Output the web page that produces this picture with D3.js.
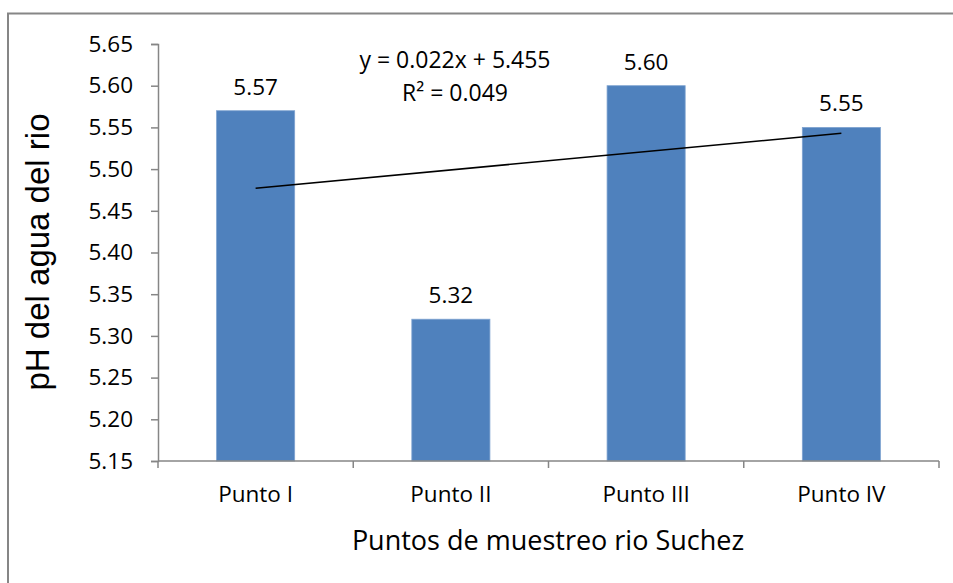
<!DOCTYPE html>
<html><head><meta charset="utf-8">
<script src="https://cdn.jsdelivr.net/npm/d3@7"></script>
<style>body{margin:0;background:#fff}svg{display:block}</style>
</head><body>
<script>
const categories = ["Punto I", "Punto II", "Punto III", "Punto IV"];
const values = [5.57, 5.32, 5.60, 5.55];
const yTicks = [5.15, 5.20, 5.25, 5.30, 5.35, 5.40, 5.45, 5.50, 5.55, 5.60, 5.65];
const trendSlope = 0.022, trendIntercept = 5.455;
const equationLines = ["y = 0.022x + 5.455", "R² = 0.049"];
const yTitle = "pH del agua del rio";
const xTitle = "Puntos de muestreo rio Suchez";

const W = 953, H = 583;
const m = {left: 158, right: 14, top: 44, bottom: 122};
const svg = d3.select("body").append("svg").attr("width", W).attr("height", H);
const font = "'Open Sans', Lato, sans-serif";
const fs = 22.5;

svg.append("rect").attr("x", 8).attr("y", 13.5).attr("width", W + 10).attr("height", H + 10)
  .attr("fill", "none").attr("stroke", "#868686").attr("stroke-width", 2);

const x = d3.scaleBand().domain(categories).range([m.left, W - m.right]).paddingInner(0.6).paddingOuter(0.3);
const y = d3.scaleLinear().domain([5.15, 5.65]).range([H - m.bottom, m.top]);

// bars
svg.selectAll("rect.bar").data(values).join("rect").attr("class", "bar")
  .attr("x", (d, i) => x(categories[i])).attr("width", x.bandwidth())
  .attr("y", d => y(d)).attr("height", d => y(5.15) - y(d))
  .attr("fill", "#4F81BD").attr("stroke", "#7FA3D0").attr("stroke-width", 0.8);

// labels
svg.selectAll("text.lbl").data(values).join("text").attr("class", "lbl")
  .attr("x", (d, i) => x(categories[i]) + x.bandwidth() / 2).attr("y", d => y(d) - 16)
  .attr("text-anchor", "middle").attr("font-family", font).attr("font-size", fs).attr("fill", "#000")
  .text(d => d.toFixed(2));

// axes
const yAxis = d3.axisLeft(y).tickValues(yTicks).tickFormat(d3.format(".2f")).tickSize(7).tickPadding(18);
const gy = svg.append("g").attr("transform", `translate(${m.left},0)`).call(yAxis);
gy.select(".domain").attr("stroke", "#868686").attr("stroke-width", 1.5);
gy.selectAll(".tick line").attr("stroke", "#868686").attr("stroke-width", 1.5);
gy.selectAll(".tick text").attr("font-family", font).attr("font-size", fs).attr("fill", "#000");

const xEdge = d3.scaleLinear().domain([0, categories.length]).range([m.left, W - m.right]);
const gx = svg.append("g").attr("transform", `translate(0,${H - m.bottom})`);
gx.append("line").attr("x1", m.left).attr("x2", W - m.right).attr("stroke", "#868686").attr("stroke-width", 1.5);
gx.selectAll("line.t").data(d3.range(0, categories.length + 1)).join("line").attr("class", "t")
  .attr("x1", d => xEdge(d)).attr("x2", d => xEdge(d)).attr("y1", 0).attr("y2", 7)
  .attr("stroke", "#868686").attr("stroke-width", 1.5);
gx.selectAll("text").data(categories).join("text")
  .attr("x", d => x(d) + x.bandwidth() / 2).attr("y", 41)
  .attr("text-anchor", "middle").attr("font-family", font).attr("font-size", fs).attr("fill", "#000").text(d => d);

// trendline
const cx = i => x(categories[i]) + x.bandwidth() / 2;
const n = categories.length;
svg.append("line")
  .attr("x1", cx(0)).attr("y1", y(trendSlope * 1 + trendIntercept))
  .attr("x2", cx(n - 1)).attr("y2", y(trendSlope * n + trendIntercept))
  .attr("stroke", "#000").attr("stroke-width", 1.6);

// equation
svg.append("text").attr("x", 455).attr("y", 68).attr("text-anchor", "middle")
  .attr("font-family", font).attr("font-size", 23).text(equationLines[0]);
svg.append("text").attr("x", 455).attr("y", 101).attr("text-anchor", "middle")
  .attr("font-family", font).attr("font-size", 23).text(equationLines[1]);

// titles
svg.append("text").attr("transform", `translate(49,252) rotate(-90)`).attr("text-anchor", "middle")
  .attr("font-family", "'Liberation Sans', Arial, sans-serif").attr("font-size", 33).text(yTitle);
svg.append("text").attr("x", 548).attr("y", 550).attr("text-anchor", "middle")
  .attr("font-family", font).attr("font-size", 27).text(xTitle);
</script>
</body></html>
